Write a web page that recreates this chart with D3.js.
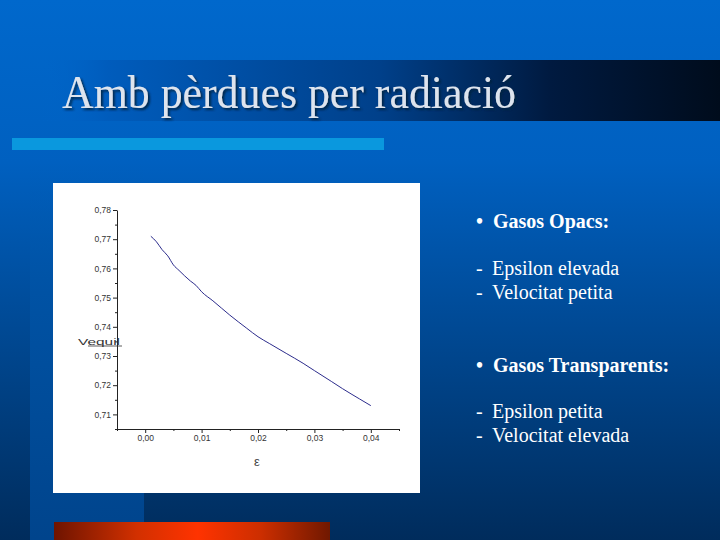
<!DOCTYPE html>
<html><head><meta charset="utf-8">
<script src="https://cdn.jsdelivr.net/npm/d3@7/dist/d3.min.js"></script>
<style>html,body{margin:0;padding:0;background:#0066cc;}svg{display:block;}</style>
</head><body>
<script>
// ---- data ----
const epsilon = [0.001, 0.002, 0.003, 0.004, 0.005, 0.006, 0.008, 0.009, 0.010, 0.012, 0.015, 0.018, 0.020, 0.022, 0.025, 0.028, 0.030, 0.033, 0.035, 0.038, 0.040];
const velocity = [0.7710, 0.7691, 0.7664, 0.7643, 0.7612, 0.7593, 0.7557, 0.7542, 0.7520, 0.7489, 0.7440, 0.7395, 0.7366, 0.7343, 0.7309, 0.7275, 0.7250, 0.7213, 0.7188, 0.7153, 0.7130];
const xMajorTicks = [0.00, 0.01, 0.02, 0.03, 0.04];
const xMinorTicks = [-0.005, 0.005, 0.015, 0.025, 0.035, 0.045];
const yMajorTicks = [0.71, 0.72, 0.73, 0.74, 0.75, 0.76, 0.77, 0.78];
const yMinorTicks = [0.705, 0.715, 0.725, 0.735, 0.745, 0.755, 0.765, 0.775];
const titleText = "Amb pèrdues per radiació";
const bulletHeads = ["Gasos Opacs:", "Gasos Transparents:"];
const bulletItems = [["Epsilon elevada", "Velocitat petita"], ["Epsilon petita", "Velocitat elevada"]];
const xLabel = "ε";
const yLabel = "Vequil";

const W = 720, H = 540;
const svg = d3.select("body").append("svg").attr("width", W).attr("height", H);
const defs = svg.append("defs");

const bg = defs.append("linearGradient").attr("id", "bg").attr("x1", 0).attr("y1", 0).attr("x2", 0).attr("y2", 1);
[[0, "#0068cc"], [0.3, "#0060c0"], [0.65, "#00468e"], [1, "#002c5c"]].forEach(s => bg.append("stop").attr("offset", s[0]).attr("stop-color", s[1]));
const band = defs.append("linearGradient").attr("id", "band").attr("x1", 0).attr("y1", 0).attr("x2", 1).attr("y2", 0);
[[0, "#0064c8", 0], [0.1, "#005cbc", 1], [0.5, "#00408a", 1], [0.75, "#001a40", 1], [1, "#000c1c", 1]].forEach(s => band.append("stop").attr("offset", s[0]).attr("stop-color", s[1]).attr("stop-opacity", s[2]));
const strip = defs.append("linearGradient").attr("id", "strip").attr("x1", 0).attr("y1", 0).attr("x2", 0).attr("y2", 1);
[[0, "#0060bc", 0], [0.35, "#0052a4", 1], [1, "#00448c", 1]].forEach(s => strip.append("stop").attr("offset", s[0]).attr("stop-color", s[1]).attr("stop-opacity", s[2]));
const red = defs.append("linearGradient").attr("id", "red").attr("x1", 0).attr("y1", 0).attr("x2", 1).attr("y2", 0);
[[0, "#6e1400"], [0.3, "#d23000"], [0.52, "#ff3300"], [0.75, "#cc2e00"], [1, "#701800"]].forEach(s => red.append("stop").attr("offset", s[0]).attr("stop-color", s[1]));
const sh = defs.append("filter").attr("id", "sh").attr("x", "-5%").attr("y", "-20%").attr("width", "110%").attr("height", "140%");
sh.append("feDropShadow").attr("dx", 2).attr("dy", 2).attr("stdDeviation", 0.8).attr("flood-color", "#06203f").attr("flood-opacity", 0.9);

// background
svg.append("rect").attr("width", W).attr("height", H).attr("fill", "url(#bg)");
svg.append("rect").attr("x", 30).attr("y", 160).attr("width", 114).attr("height", 380).attr("fill", "url(#strip)");
svg.append("rect").attr("x", 40).attr("y", 60).attr("width", 680).attr("height", 61).attr("fill", "url(#band)");
svg.append("rect").attr("x", 12).attr("y", 138).attr("width", 372).attr("height", 12).attr("fill", "#0a98de");
svg.append("rect").attr("x", 54).attr("y", 522).attr("width", 276).attr("height", 18).attr("fill", "url(#red)");

// title
svg.append("text").attr("x", 62).attr("y", 108)
  .attr("font-family", "'Liberation Serif','Times New Roman',serif").attr("font-size", 46)
  .attr("textLength", 454).attr("lengthAdjust", "spacingAndGlyphs")
  .attr("fill", "#dde4ee").attr("filter", "url(#sh)").text(titleText);

// chart panel
svg.append("rect").attr("x", 53).attr("y", 183).attr("width", 367).attr("height", 310).attr("fill", "#ffffff");

const x = d3.scaleLinear().domain([-0.005, 0.045]).range([117, 399]);
const y = d3.scaleLinear().domain([0.705, 0.78]).range([429, 210]);
const fmt = d => d3.format(".2f")(d).replace(".", ",");
const axisFont = "'Liberation Sans',Arial,sans-serif";

const gx = svg.append("g").attr("transform", "translate(0,429)");
gx.call(d3.axisBottom(x).tickValues(xMajorTicks).tickFormat(fmt).tickSize(4).tickPadding(2).tickSizeOuter(0));
gx.append("g").call(d3.axisBottom(x).tickValues(xMinorTicks).tickFormat("").tickSize(2).tickSizeOuter(0)).select(".domain").remove();
const gy = svg.append("g").attr("transform", "translate(117,0)");
gy.call(d3.axisLeft(y).tickValues(yMajorTicks).tickFormat(fmt).tickSize(4).tickPadding(2).tickSizeOuter(0));
gy.append("g").call(d3.axisLeft(y).tickValues(yMinorTicks).tickFormat("").tickSize(2).tickSizeOuter(0)).select(".domain").remove();
[gx, gy].forEach(g => {
  g.selectAll("path,line").attr("stroke", "#222").attr("stroke-width", 1);
  g.selectAll("text").attr("font-family", axisFont).attr("font-size", 8.5).attr("fill", "#333");
});

svg.append("text").attr("x", 257).attr("y", 466).attr("text-anchor", "middle")
  .attr("font-family", axisFont).attr("font-size", 13).attr("fill", "#444").text(xLabel);
svg.append("text").attr("x", 78).attr("y", 345)
  .attr("font-family", axisFont).attr("font-size", 9).attr("fill", "#333")
  .attr("textLength", 42).attr("lengthAdjust", "spacingAndGlyphs").text(yLabel);
svg.append("line").attr("x1", 88).attr("x2", 122).attr("y1", 346).attr("y2", 346).attr("stroke", "#333").attr("stroke-width", 0.8);

const pts = epsilon.map((e, i) => [e, velocity[i]]);
svg.append("path").datum(pts)
  .attr("d", d3.line().x(d => x(d[0])).y(d => y(d[1])).curve(d3.curveMonotoneX))
  .attr("fill", "none").attr("stroke", "#2c2c8c").attr("stroke-width", 1);

// bullet text
const tf = "'Liberation Serif','Times New Roman',serif";
const heads = [228, 372];
const items = [[275, 299], [418, 442]];
bulletHeads.forEach((h, i) => {
  svg.append("text").attr("x", 476).attr("y", heads[i]).attr("font-family", tf).attr("font-size", 20).attr("font-weight", "bold").attr("fill", "#fff").text("•");
  svg.append("text").attr("x", 493).attr("y", heads[i]).attr("font-family", tf).attr("font-size", 20).attr("font-weight", "bold").attr("fill", "#fff").text(h);
  bulletItems[i].forEach((t, j) => {
    svg.append("text").attr("x", 476).attr("y", items[i][j]).attr("font-family", tf).attr("font-size", 20).attr("fill", "#fff").text("-");
    svg.append("text").attr("x", 492).attr("y", items[i][j]).attr("font-family", tf).attr("font-size", 20).attr("fill", "#fff").text(t);
  });
});
</script>
</body></html>
